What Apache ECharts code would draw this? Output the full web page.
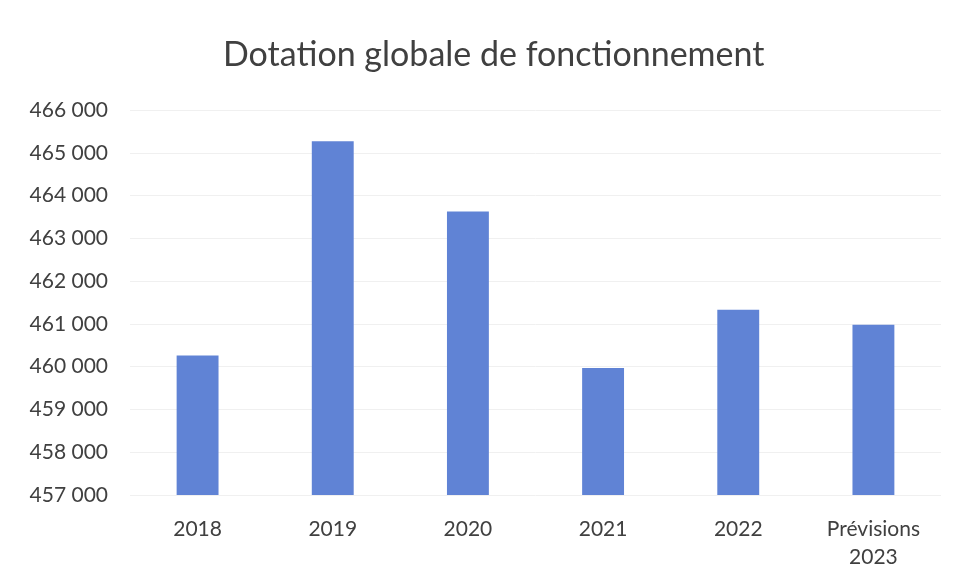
<!DOCTYPE html>
<html>
<head>
<meta charset="utf-8">
<script src="https://cdn.jsdelivr.net/npm/echarts@6/dist/echarts.min.js"></script>
<style>
  html, body { margin: 0; padding: 0; background: #fff; }
  #chart { width: 958px; height: 580px; }
</style>
</head>
<body>
<div id="chart"></div>
<script>
// catégories et valeurs
const categories = ['2018', '2019', '2020', '2021', '2022', 'Prévisions\n2023']
const dgfValues = [460260, 465270, 463630, 459970, 461330, 460980]
const yMin = 457000
const yMax = 466000
const yStep = 1000

const chart = echarts.init(document.getElementById('chart'))

const option = {
  animation: false,
  backgroundColor: '#fff',
  title: {
    text: 'Dotation globale de fonctionnement',
    left: 218,
    top: 33,
    textStyle: {
      fontFamily: 'Lato',
      fontSize: 34,
      fontWeight: 'normal',
      color: '#404040'
    }
  },
  grid: {
    left: 130,
    right: 17,
    top: 110,
    bottom: 85
  },
  xAxis: {
    type: 'category',
    data: categories,
    axisLine: { show: false },
    axisTick: { show: false },
    axisLabel: {
      margin: 20,
      fontFamily: 'Lato',
      fontSize: 21,
      lineHeight: 28,
      color: '#404040'
    }
  },
  yAxis: {
    type: 'value',
    min: yMin,
    max: yMax,
    interval: yStep,
    axisLine: { show: false },
    axisTick: { show: false },
    splitLine: { lineStyle: { color: '#f0f0f0', width: 1 } },
    axisLabel: {
      margin: 22,
      fontFamily: 'Lato',
      fontSize: 21,
      color: '#404040',
      formatter: v => String(v).replace(/\B(?=(\d{3})+(?!\d))/g, ' ')
    }
  },
  series: [{
    type: 'bar',
    data: dgfValues,
    barWidth: '31%',
    itemStyle: { color: '#6083d5' }
  }]
}

chart.setOption(option)
</script>
</body>
</html>
